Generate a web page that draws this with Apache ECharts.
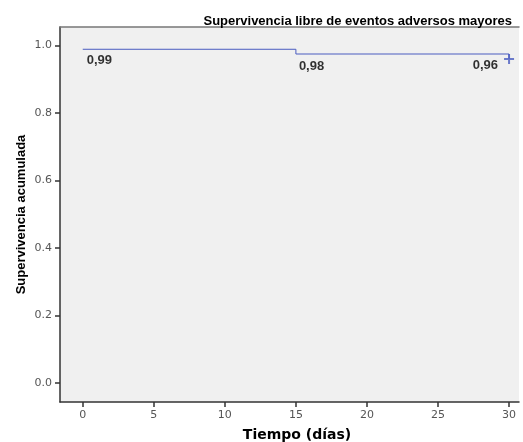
<!DOCTYPE html>
<html>
<head>
<meta charset="utf-8">
<script src="https://cdn.jsdelivr.net/npm/echarts@6/dist/echarts.min.js"></script>
<style>
html,body{margin:0;padding:0;background:#fff;}
#chart{width:523px;height:442px;}
</style>
</head>
<body>
<div id="chart"></div>
<script>
// Data
const times = [0, 15, 30];
const survival = [0.989, 0.975, 0.96];
const survivalLabels = ['0,99', '0,98', '0,96'];
const censorTimes = [30];
const censorSurv = [0.96];
const xTicks = [0, 5, 10, 15, 20, 25, 30];
const yTicks = [0, 0.2, 0.4, 0.6, 0.8, 1.0];

const labelStyles = [
  {position: 'bottom', align: 'left', offset: [4, 0]},
  {position: 'bottom', align: 'left', offset: [3, 1]},
  {position: 'bottom', align: 'right', offset: [-11, -5]}
];

const chart = echarts.init(document.getElementById('chart'), null, {renderer: 'canvas'});
const tickColor = '#555';
const axisColor = '#333';
chart.setOption({
  animation: false,
  backgroundColor: '#ffffff',
  title: {
    text: 'Supervivencia libre de eventos adversos mayores',
    right: 6, top: 10,
    textStyle: {fontFamily: 'Liberation Sans', fontWeight: 'bold', fontSize: 13, color: '#000'}
  },
  grid: {left: 60, right: 4, top: 27, bottom: 40, show: true, backgroundColor: '#f0f0f0', borderWidth: 0,
    containLabel: false, outerBoundsMode: 'none'},
  xAxis: [{
    type: 'value', min: -1.6, max: 30.7,
    name: 'Tiempo (días)', nameLocation: 'middle', nameGap: 26, nameMoveOverlap: false,
    nameTextStyle: {fontFamily: 'DejaVu Sans', fontWeight: 'bold', fontSize: 14, color: '#000', padding: [0, 0, 0, 15]},
    axisLine: {show: true, onZero: false, lineStyle: {color: axisColor, width: 1.5}},
    axisTick: {show: true, length: 5, customValues: xTicks, lineStyle: {color: axisColor, width: 1.5}},
    axisLabel: {customValues: xTicks, margin: 8, color: tickColor, fontFamily: 'DejaVu Sans', fontSize: 11},
    splitLine: {show: false}
  }, {
    type: 'value', position: 'top', min: -1.6, max: 30.7,
    axisLine: {show: true, onZero: false, lineStyle: {color: '#777', width: 1.5}},
    axisTick: {show: false}, axisLabel: {show: false}, splitLine: {show: false}
  }],
  yAxis: {
    type: 'value', min: -0.056, max: 1.055,
    name: 'Supervivencia acumulada', nameLocation: 'middle', nameGap: 32, nameMoveOverlap: false,
    nameTextStyle: {fontFamily: 'Liberation Sans', fontWeight: 'bold', fontSize: 13, color: '#000'},
    axisLine: {show: true, onZero: false, lineStyle: {color: axisColor, width: 1.5}},
    axisTick: {show: true, length: 5, customValues: yTicks, lineStyle: {color: axisColor, width: 1.5}},
    axisLabel: {customValues: yTicks, margin: 8, color: tickColor, fontFamily: 'DejaVu Sans', fontSize: 11,
      formatter: v => v.toFixed(1)},
    splitLine: {show: false}
  },
  series: [
    {
      type: 'line', step: 'end', showSymbol: false, silent: true, xAxisIndex: 0,
      data: times.map((t, i) => [t, survival[i]]),
      lineStyle: {color: '#4a5cc0', width: 1}, itemStyle: {color: '#4a5cc0'}
    },
    {
      type: 'scatter', silent: true, symbolSize: 0, xAxisIndex: 0,
      data: times.map((t, i) => ({
        value: [t, survival[i]],
        label: Object.assign({show: true, formatter: survivalLabels[i]}, labelStyles[i])
      })),
      label: {color: '#000', fontFamily: 'Liberation Sans', fontWeight: 'bold', fontSize: 13}
    },
    {
      type: 'scatter', silent: true, xAxisIndex: 0,
      symbol: 'path://M4,0 L6,0 L6,4 L10,4 L10,6 L6,6 L6,10 L4,10 L4,6 L0,6 L0,4 L4,4 Z',
      symbolSize: 10,
      itemStyle: {color: '#4a5cc0'},
      data: censorTimes.map((t, i) => [t, censorSurv[i]])
    }
  ]
});
</script>
</body>
</html>
